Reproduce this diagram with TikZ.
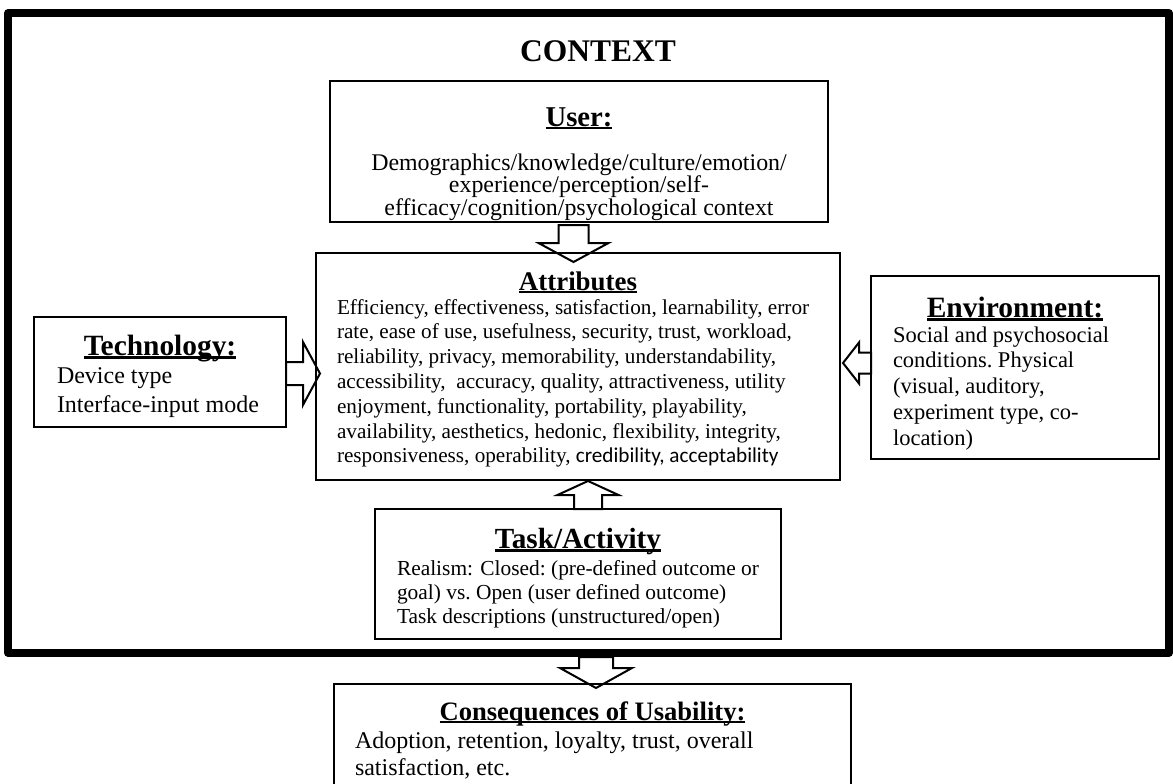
\documentclass[tikz,border=0pt]{standalone}
\usepackage{fontspec}
\setmainfont{Liberation Serif}
\newfontfamily\calibri{Carlito}
\usetikzlibrary{calc}
\lineskiplimit=-1000pt
\frenchspacing
% font size and baseline skip in pt
\newcommand\fsz[2]{\fontsize{#1pt}{#2pt}\selectfont}
% word-processor style underline at a fixed depth
\newcommand\ulbox[1]{\leavevmode\setbox0=\hbox{#1}\rlap{\rule[-0.12em]{\wd0}{0.07em}}\box0}
% outlined block arrow: name, tail, tip, shaft half-width, head half-width, head length
\newcommand\blockarrow[6]{%
  \coordinate (#1-b) at ($(#3)!#6!(#2)$);
  \draw[blk] ($(#2)!#4!90:(#3)$) -- ($(#1-b)!#4!90:(#3)$) -- ($(#1-b)!#5!90:(#3)$) -- (#3)
    -- ($(#1-b)!#5!-90:(#3)$) -- ($(#1-b)!#4!-90:(#3)$) -- ($(#2)!#4!-90:(#3)$) -- cycle;}
\begin{document}
\begin{tikzpicture}[x=1pt,y=-1pt,
  box/.style={draw, line width=2pt, inner sep=0pt, outer sep=0pt, anchor=north west},
  blk/.style={draw, line width=2pt, line join=miter}]
\useasboundingbox (0,0) rectangle (1173,784);
\clip (0,0) rectangle (1173,784);

% context frame and its title
\node[draw, line width=7.5pt, line join=round, inner sep=0pt, outer sep=0pt,
      anchor=north west, minimum width=1161pt, minimum height=640pt] (context) at (8,13) {};
\node[anchor=base, inner sep=0pt, font={\fsz{31.5}{31.5}\bfseries}] (ctxtitle) at (598,62) {CONTEXT};

% user
\node[box, minimum width=498pt, minimum height=141pt] (user) at (330,81)
 {\parbox[c][141pt][t]{498pt}{\centering
   \fsz{28.7}{28.7}\bfseries\rule{0pt}{45pt}\ulbox{User:}\par
   \fsz{23.9}{21}\mdseries\vspace{23pt}
   Demographics/knowledge/culture/emotion/\\
   experience/perception/self-\\
   efficacy/cognition/psychological context\par}};

% technology
\node[box, minimum width=252pt, minimum height=110pt] (tech) at (34,317)
 {\parbox[c][110pt][t]{206pt}{\centering
   \fsz{29.4}{29.4}\bfseries\rule{0pt}{38pt}\ulbox{Technology:}\par
   \raggedright\fsz{24}{29}\mdseries\vspace{-1pt}
   Device type\\
   Interface-input mode\par}};

% attributes
\node[box, minimum width=524pt, minimum height=227pt] (attr) at (316,253)
 {\parbox[c][227pt][t]{482pt}{\centering
   \fsz{26.9}{26.9}\bfseries\rule{0pt}{37pt}\ulbox{Attributes}\par
   \raggedright\fsz{21.2}{24.8}\mdseries\vspace{-0.8pt}
   Efficiency, effectiveness, satisfaction, learnability, error\\
   rate, ease of use, usefulness, security, trust, workload,\\
   reliability, privacy, memorability, understandability,\\
   accessibility,\ \ accuracy, quality, attractiveness, utility\\
   enjoyment, functionality, portability, playability,\\
   availability, aesthetics, hedonic, flexibility, integrity,\\
   responsiveness, operability, {\calibri credibility, acceptability}\par}};

% environment
\node[box, minimum width=288pt, minimum height=183pt] (env) at (871,276)
 {\parbox[c][183pt][t]{244pt}{\centering
   \fsz{29.5}{29.5}\bfseries\rule{0pt}{41pt}\ulbox{Environment:}\par
   \raggedright\fsz{22.5}{25.8}\mdseries\vspace{-0.8pt}
   Social and psychosocial\\
   conditions. Physical\\
   (visual, auditory,\\
   experiment type, co-\\
   location)\par}};

% task / activity
\node[box, minimum width=406pt, minimum height=130pt] (task) at (375,509)
 {\parbox[c][130pt][t]{362pt}{\centering
   \fsz{29.2}{29.2}\bfseries\rule{0pt}{39pt}\ulbox{Task/Activity}\par
   \raggedright\fsz{21.4}{24}\mdseries\vspace{3pt}
   Realism:\kern2pt\ Closed: (pre-defined outcome or\\
   goal) vs. Open (user defined outcome)\\
   Task descriptions (unstructured/open)\par}};

% consequences
\node[box, minimum width=517pt, minimum height=130pt] (conseq) at (334,684)
 {\parbox[c][130pt][t]{475pt}{\centering
   \fsz{26.6}{26.6}\bfseries\rule{0pt}{36pt}\ulbox{Consequences of Usability:}\par
   \raggedright\fsz{24}{27}\mdseries\vspace{1pt}
   Adoption, retention, loyalty, trust, overall\\
   satisfaction, etc.\par}};

% block arrows
\coordinate (ua-t) at ([xshift=-5.5pt,yshift=-3pt]user.south);
\coordinate (ua-h) at ([xshift=-4.5pt,yshift=-9pt]attr.north);
\blockarrow{ua}{ua-t}{ua-h}{15pt}{35pt}{19pt}

\coordinate (ta-t) at ([yshift=-1.5pt]tech.east);
\coordinate (ta-h) at ([xshift=4pt,yshift=-7pt]attr.west);
\blockarrow{ta}{ta-t}{ta-h}{11.5pt}{31.5pt}{17pt}

\coordinate (ea-t) at ([yshift=4.5pt]env.west);
\coordinate (ea-h) at ([xshift=3pt,yshift=3.5pt]attr.east);
\blockarrow{ea}{ea-t}{ea-h}{10.5pt}{20.5pt}{16pt}

\coordinate (ka-t) at ([xshift=10pt]task.north);
\coordinate (ka-h) at ([xshift=10pt,yshift=-1pt]attr.south);
\blockarrow{ka}{ka-t}{ka-h}{14pt}{30.5pt}{14pt}

\coordinate (ca-t) at ([xshift=7.5pt,yshift=-4pt]context.south);
\coordinate (ca-h) at ([xshift=3.5pt,yshift=-4pt]conseq.north);
\blockarrow{ca}{ca-t}{ca-h}{17pt}{36pt}{20pt}
\end{tikzpicture}
\end{document}
